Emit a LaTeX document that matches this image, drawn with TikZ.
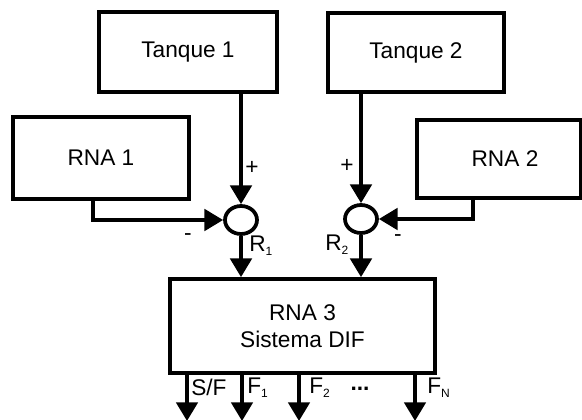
\documentclass[tikz,border=0pt]{standalone}
\usepackage{fontspec}
\setmainfont{Liberation Sans}
\usetikzlibrary{arrows.meta,shapes.geometric}
\newcommand{\sbs}[1]{{\fontsize{9}{9}\selectfont\raisebox{-3pt}{#1}}}
\begin{document}
\begin{tikzpicture}[x=0.75pt,y=-0.75pt,
  box/.style={draw,line width=2.8pt,rectangle,inner sep=0pt,align=center,
    font=\fontsize{17}{20.5}\selectfont},
  sum/.style={draw,line width=2.8pt,ellipse,inner sep=0pt,
    minimum width=24pt,minimum height=21pt},
  arr/.style={line width=2.8pt,-{Triangle[length=14pt,width=16pt]}},
  lbl/.style={font=\fontsize{17}{20}\selectfont,inner sep=0pt}]
\useasboundingbox (0,0) rectangle (582,420);
\node[box,minimum width=133.5pt,minimum height=60pt] (t1) at (188,52) {Tanque 1};
\node[box,minimum width=132pt,minimum height=59.25pt] (t2) at (416,52.5) {Tanque 2};
\node[box,minimum width=132pt,minimum height=61.5pt] (r1) at (101,158) {RNA 1};
\node[box,minimum width=123pt,minimum height=58.5pt] (r2) at (499,159) {\hspace*{9pt}RNA 2};
\node[box,minimum width=198.75pt,minimum height=70.5pt] (r3) at (302.5,326) {RNA 3\\Sistema DIF};
\node[sum] (s1) at (241,220) {};
\node[sum] (s2) at (361,219) {};
\coordinate (c1) at (93,199);
\coordinate (c2) at (473,198);
\coordinate (o1) at (187,421);
\coordinate (o2) at (242,421);
\coordinate (o3) at (299,421);
\coordinate (o4) at (415,421);
\draw[arr] (t1.south -| s1) -- (s1.north);
\draw[arr] (t2.south -| s2) -- (s2.north);
\draw[arr] (c1) |- (s1.west);
\draw[arr] (c2) |- (s2.east);
\draw[arr] (s1.south) -- (s1.south |- r3.north);
\draw[arr] (s2.south) -- (s2.south |- r3.north);
\foreach \o in {o1,o2,o3,o4} \draw[arr] (r3.south -| \o) -- (\o);
\node[lbl] (p1) at (252,168) {+};
\node[lbl] (m1) at (188,237) {-};
\node[lbl,anchor=west] (R1) at (249,246) {R\sbs{1}};
\node[lbl] (p2) at (347,166) {+};
\node[lbl] (m2) at (398,238) {-};
\node[lbl,anchor=west] (R2) at (325,245) {R\sbs{2}};
\node[lbl,anchor=west] (sf) at (191,387) {S/F};
\node[lbl,anchor=west] (f1) at (247,388) {F\sbs{1}};
\node[lbl,anchor=west] (f2) at (309,388) {F\sbs{2}};
\node[lbl] (dots) at (360,389) {\textbf{...}};
\node[lbl,anchor=west] (fn) at (427,388) {F\sbs{N}};
\end{tikzpicture}
\end{document}
